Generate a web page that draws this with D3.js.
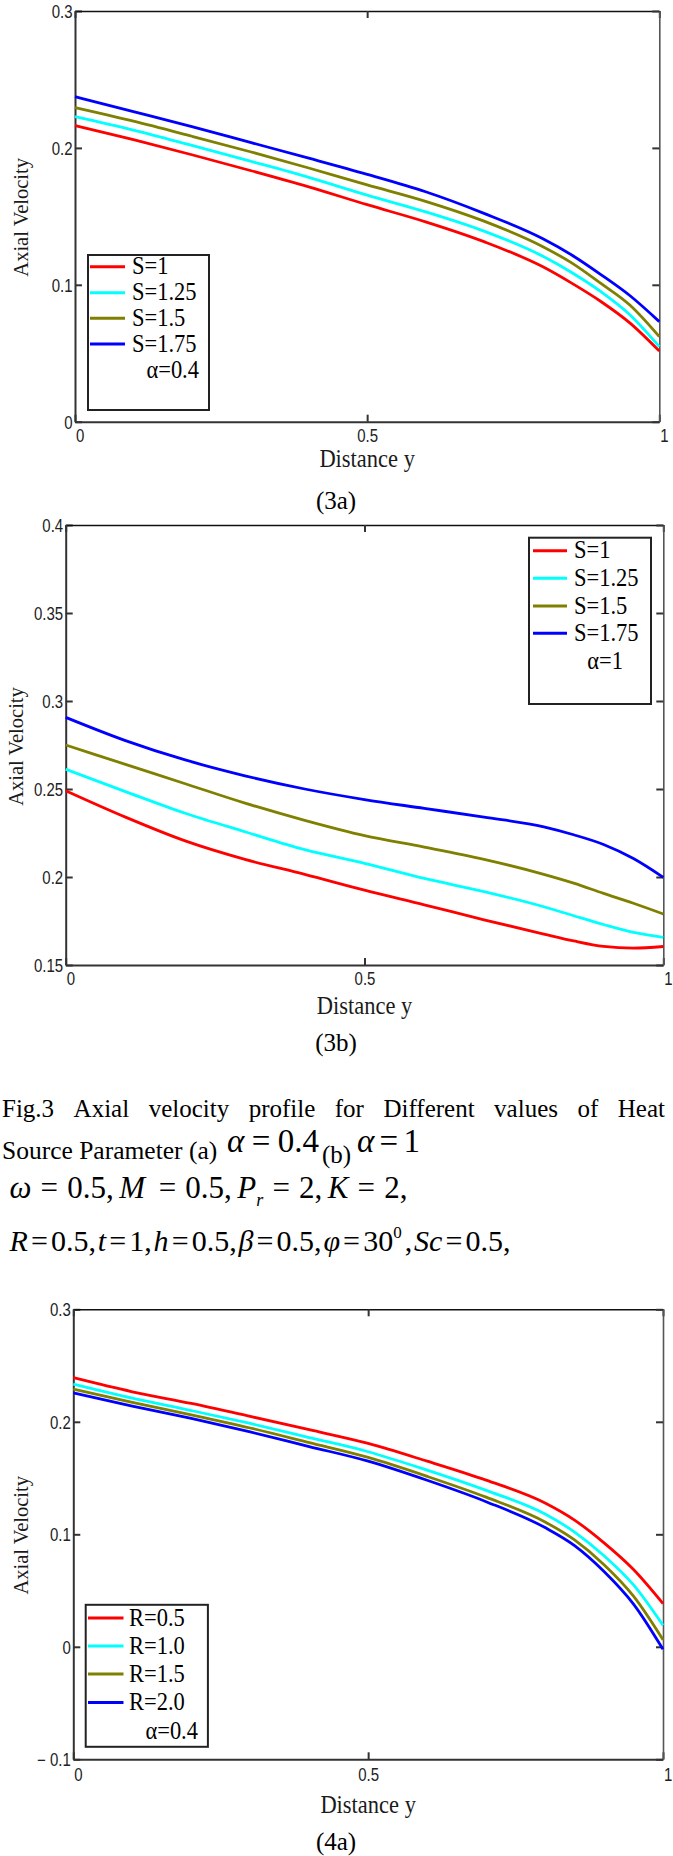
<!DOCTYPE html>
<html><head><meta charset="utf-8">
<script src="https://cdn.jsdelivr.net/npm/d3@7"></script>
<style>
body{margin:0;background:#fff;}
svg{display:block;background:#fff;}
</style></head><body>
<svg id="fig" width="673" height="1856"></svg>
<script>
// ---------- DATA ----------
const xGrid = [0, 0.1, 0.2, 0.3, 0.4, 0.5, 0.6, 0.7, 0.8, 0.85, 0.9, 0.95, 1];
const xTickValues = [0, 0.5, 1];
const xTickLabels = ["0", "0.5", "1"];

// Fig 3a (alpha = 0.4)
const names3a = ["S=1", "S=1.25", "S=1.5", "S=1.75"];
const note3a = "\u03b1=0.4";
const s1_3a   = [0.2163,0.2060,0.1950,0.1835,0.1715,0.1585,0.1460,0.1315,0.1133,0.1012,0.0878,0.0720,0.0516];
const s125_3a = [0.2228,0.2130,0.2018,0.1903,0.1785,0.1655,0.1533,0.1392,0.1210,0.1090,0.0950,0.0780,0.0548];
const s15_3a  = [0.2294,0.2195,0.2085,0.1972,0.1853,0.1730,0.1610,0.1465,0.1280,0.1160,0.1010,0.0850,0.0621];
const s175_3a = [0.2374,0.2265,0.2155,0.2040,0.1925,0.1807,0.1680,0.1522,0.1338,0.1218,0.1075,0.0920,0.0731];
const yTicks3a = [0, 0.1, 0.2, 0.3];
const yTickLabels3a = ["0", "0.1", "0.2", "0.3"];

// Fig 3b (alpha = 1)
const names3b = ["S=1", "S=1.25", "S=1.5", "S=1.75"];
const note3b = "\u03b1=1";
const s1_3b   = [0.2490,0.2340,0.2205,0.2100,0.2015,0.1925,0.1842,0.1757,0.1676,0.1637,0.1606,0.1596,0.1605];
const s125_3b = [0.2612,0.2485,0.2362,0.2257,0.2155,0.2078,0.1992,0.1917,0.1831,0.1780,0.1730,0.1685,0.1657];
const s15_3b  = [0.2750,0.2640,0.2530,0.2420,0.2322,0.2235,0.2170,0.2100,0.2015,0.1965,0.1907,0.1851,0.1790];
const s175_3b = [0.2907,0.2775,0.2665,0.2575,0.2500,0.2440,0.2390,0.2340,0.2285,0.2240,0.2185,0.2105,0.1998];
const yTicks3b = [0.15, 0.2, 0.25, 0.3, 0.35, 0.4];
const yTickLabels3b = ["0.15", "0.2", "0.25", "0.3", "0.35", "0.4"];

// Fig 4a (alpha = 0.4)
const names4a = ["R=0.5", "R=1.0", "R=1.5", "R=2.0"];
const note4a = "\u03b1=0.4";
const r05_4a = [0.2392,0.2267,0.2163,0.2048,0.1930,0.1808,0.1650,0.1481,0.1278,0.1126,0.0924,0.0687,0.0384];
const r10_4a = [0.2335,0.2210,0.2100,0.1985,0.1860,0.1734,0.1570,0.1390,0.1180,0.1020,0.0810,0.0550,0.0191];
const r15_4a = [0.2291,0.2172,0.2062,0.1945,0.1815,0.1683,0.1515,0.1330,0.1110,0.0950,0.0730,0.0450,0.0063];
const r20_4a = [0.2257,0.2140,0.2030,0.1910,0.1780,0.1650,0.1480,0.1290,0.1060,0.0900,0.0670,0.0380,-0.0022];
const yTicks4a = [-0.1, 0, 0.1, 0.2, 0.3];
const yTickLabels4a = ["\u2212 0.1", "0", "0.1", "0.2", "0.3"];

const colors = ["#ff0000", "#00ffff", "#808000", "#0000ff"];

// ---------- DRAWING ----------
const svg = d3.select("#fig");
const serif = "'Liberation Serif','Times New Roman',serif";
const sans = "'Liberation Sans',Arial,sans-serif";
const frameColor = "#333";

function panel(c) {
  const x = d3.scaleLinear().domain([0, 1]).range([c.x0, c.x1]);
  const y = d3.scaleLinear().domain(c.yDomain).range([c.y1, c.y0]);
  const g = svg.append("g");

  const styleAxis = a => {
    a.select(".domain").attr("stroke", frameColor).attr("stroke-width", 2);
    a.selectAll(".tick line").attr("stroke", frameColor).attr("stroke-width", 2);
    a.selectAll("text").attr("font-family", sans).attr("font-size", 15).attr("fill", "#222");
  };

  const la = g.append("g").attr("transform", `translate(${c.x0},0)`)
    .call(d3.axisLeft(y).tickValues(c.yTicks).tickFormat((d, i) => c.yTickLabels[i])
      .tickSizeInner(-7).tickSizeOuter(0).tickPadding(3));
  styleAxis(la);
  la.selectAll("text").attr("x", null).attr("dy", null)
    .attr("text-anchor", "end")
    .attr("transform", "translate(-2.5,6.3) scale(1,1.18)");

  const ba = g.append("g").attr("transform", `translate(0,${c.y1})`)
    .call(d3.axisBottom(x).tickValues(xTickValues).tickFormat((d, i) => xTickLabels[i])
      .tickSizeInner(-7).tickSizeOuter(0).tickPadding(3));
  styleAxis(ba);
  ba.selectAll("text").attr("y", null).attr("dy", null)
    .attr("text-anchor", (d, i) => i === 1 ? "middle" : "start")
    .attr("transform", (d, i) => `translate(${i === 1 ? 0 : 0.5},${c.xLabelOff}) scale(1,1.18)`);

  const ta = g.append("g").attr("transform", `translate(0,${c.y0})`)
    .call(d3.axisTop(x).tickValues(xTickValues).tickFormat(() => "").tickSizeInner(-7).tickSizeOuter(0));
  styleAxis(ta);
  ta.select(".domain").attr("stroke", "#111").attr("stroke-width", 1.6);
  const ra = g.append("g").attr("transform", `translate(${c.x1},0)`)
    .call(d3.axisRight(y).tickValues(c.yTicks).tickFormat(() => "").tickSizeInner(-7).tickSizeOuter(0));
  styleAxis(ra);
  ra.select(".domain").attr("stroke", "#555").attr("stroke-width", 1.6);

  const line = d3.line().x((d, i) => x(xGrid[i])).y(d => y(d)).curve(d3.curveMonotoneX);
  c.series.forEach((s, i) => {
    g.append("path").attr("d", line(s)).attr("fill", "none")
      .attr("stroke", colors[i]).attr("stroke-width", 2.8).attr("stroke-linejoin", "round");
  });

  const L = c.legend;
  g.append("rect").attr("x", L.x).attr("y", L.y).attr("width", L.w).attr("height", L.h)
    .attr("fill", "#fff").attr("stroke", "#222").attr("stroke-width", 2);
  c.names.forEach((n, i) => {
    const ry = L.rows[i];
    g.append("line").attr("x1", L.lx0).attr("x2", L.lx1).attr("y1", ry).attr("y2", ry)
      .attr("stroke", colors[i]).attr("stroke-width", 3);
    g.append("text").attr("transform", `translate(${L.tx},${ry + 7.5}) scale(1,1.08)`).text(n)
      .attr("font-family", serif).attr("font-size", 22.5).attr("fill", "#000");
  });
  g.append("text").attr("transform", `translate(${L.noteX},${L.noteY + 7.5}) scale(1,1.08)`)
    .attr("text-anchor", "end").text(c.note)
    .attr("font-family", serif).attr("font-size", 22.5).attr("fill", "#000");

  g.append("text").attr("transform", `translate(${c.yTitleX},${(c.y0 + c.y1) / 2 + c.yTitleShift}) rotate(-90)`)
    .attr("text-anchor", "middle").text("Axial Velocity")
    .attr("font-family", serif).attr("font-size", 20.5).attr("fill", "#1a1a1a");
  g.append("text").attr("transform", `translate(${(c.x0 + c.x1) / 2},${c.xTitleY}) scale(1,1.08)`)
    .attr("text-anchor", "middle")
    .text("Distance y").attr("font-family", serif).attr("font-size", 22.5).attr("fill", "#1a1a1a");
  g.append("text").attr("x", 336).attr("y", c.tagY).attr("text-anchor", "middle").text(c.tag)
    .attr("font-family", serif).attr("font-size", 25).attr("fill", "#000");
}

panel({
  x0: 75, x1: 659.3, y0: 11, y1: 421.7, yDomain: [0, 0.3],
  yTicks: yTicks3a, yTickLabels: yTickLabels3a, xLabelOff: 20,
  series: [s1_3a, s125_3a, s15_3a, s175_3a], names: names3a, note: note3a,
  legend: {x: 88, y: 255, w: 121, h: 155, lx0: 90, lx1: 125, tx: 132,
           rows: [266.7, 292.7, 318.3, 344], noteX: 199, noteY: 370},
  yTitleX: 28, yTitleShift: 1, xTitleY: 466.5, tag: "(3a)", tagY: 509
});

panel({
  x0: 65.7, x1: 663.3, y0: 525, y1: 965, yDomain: [0.15, 0.4],
  yTicks: yTicks3b, yTickLabels: yTickLabels3b, xLabelOff: 20,
  series: [s1_3b, s125_3b, s15_3b, s175_3b], names: names3b, note: note3b,
  legend: {x: 529, y: 537.7, w: 122, h: 166.3, lx0: 533, lx1: 567, tx: 574,
           rows: [550.7, 578.3, 606, 633.3], noteX: 623, noteY: 661.7},
  yTitleX: 23, yTitleShift: 1.5, xTitleY: 1014, tag: "(3b)", tagY: 1051
});

panel({
  x0: 73.3, x1: 663, y0: 1309.3, y1: 1759.3, yDomain: [-0.1, 0.3],
  yTicks: yTicks4a, yTickLabels: yTickLabels4a, xLabelOff: 21.5,
  series: [r05_4a, r10_4a, r15_4a, r20_4a], names: names4a, note: note4a,
  legend: {x: 85.7, y: 1604.8, w: 122.2, h: 142, lx0: 88, lx1: 123.5, tx: 129,
           rows: [1618, 1646, 1674, 1702.4], noteX: 198, noteY: 1731},
  yTitleX: 28, yTitleShift: 1, xTitleY: 1812.5, tag: "(4a)", tagY: 1850
});

// ---------- CAPTION ----------
const cap = svg.append("g").attr("font-family", serif).attr("fill", "#000");

// line 1, justified
const words1 = "Fig.3 Axial velocity profile for Different values of Heat".split(" ");
const wEls = words1.map(w => cap.append("text").attr("y", 1117).attr("font-size", 25)
  .attr("font-family", serif).text(w));
const widths = wEls.map(e => e.node().getComputedTextLength());
const gap = (665 - 2 - d3.sum(widths)) / (words1.length - 1);
let cx = 2;
wEls.forEach((e, i) => { e.attr("x", cx); cx += widths[i] + gap; });

// math line builder: parts with g=1 get an equal extra gap before them so the line fills its width
function mathLine(x, y, size, parts, width) {
  const t = cap.append("text").attr("x", x).attr("y", y).attr("font-size", size)
    .attr("font-family", serif);
  const spans = parts.map(p => {
    const s = t.append("tspan").text(p.t).attr("font-family", serif);
    if (p.i) s.attr("font-style", "italic");
    if (p.s) s.attr("font-size", p.s);
    if (p.dy) s.attr("dy", p.dy);
    return s;
  });
  const natural = t.node().getComputedTextLength();
  const wsum = d3.sum(parts, p => p.g || 0);
  const unit = wsum ? Math.max(0, (width - natural) / wsum) : 0;
  spans.forEach((s, i) => { if (parts[i].g) s.attr("dx", unit * parts[i].g); });
  return t;
}

cap.append("text").attr("x", 2).attr("y", 1159).attr("font-size", 25.5).attr("font-family", serif)
  .text("Source Parameter (a)");
mathLine(227, 1151.5, 33, [{t: "\u03b1", i: 1}, {t: "=", g: 1}, {t: "0.4", g: 1}], 92);
cap.append("text").attr("x", 322).attr("y", 1163).attr("font-size", 25).attr("font-family", serif).text("(b)");
mathLine(357, 1151.5, 33, [{t: "\u03b1", i: 1}, {t: "=", g: 1}, {t: "1", g: 1}], 63);

// line 3
mathLine(9.5, 1198, 31, [
  {t: "\u03c9", i: 1}, {t: "=", g: 1}, {t: "0.5,", g: 1},
  {t: "M", i: 1, g: 0.6}, {t: "=", g: 1.5}, {t: "0.5,", g: 1},
  {t: "P", i: 1, g: 0.6}, {t: "r", i: 1, s: 18, dy: 8}, {t: "=", g: 1, dy: -8}, {t: "2,", g: 1},
  {t: "K", i: 1, g: 0.6}, {t: "=", g: 1}, {t: "2,", g: 1}
], 398);

// line 4
mathLine(9.5, 1251, 30, [
  {t: "R", i: 1}, {t: "=", g: 1}, {t: "0.5,", g: 1},
  {t: "t", i: 1, g: 0.6}, {t: "=", g: 1}, {t: "1,", g: 1},
  {t: "h", i: 1, g: 0.6}, {t: "=", g: 1}, {t: "0.5,", g: 1},
  {t: "\u03b2", i: 1, g: 0.6}, {t: "=", g: 1}, {t: "0.5,", g: 1},
  {t: "\u03c6", i: 1, g: 0.6}, {t: "=", g: 1}, {t: "30", g: 1},
  {t: "0", s: 17, dy: -13}, {t: ",", g: 1, dy: 13},
  {t: "Sc", i: 1, g: 0.6}, {t: "=", g: 1}, {t: "0.5,", g: 1}
], 501);
</script>
</body></html>
